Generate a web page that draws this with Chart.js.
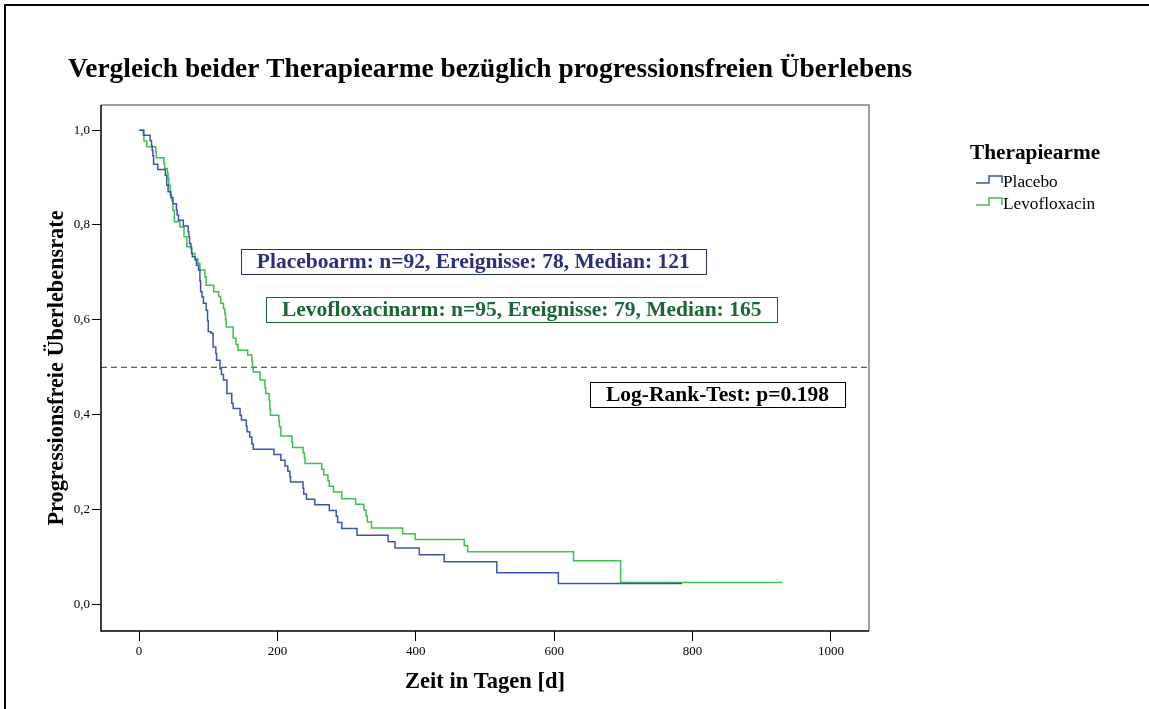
<!DOCTYPE html>
<html>
<head>
<meta charset="utf-8">
<script src="https://cdn.jsdelivr.net/npm/chart.js@4.4.1/dist/chart.umd.min.js"></script>
<style>
html, body { margin: 0; padding: 0; background: #fff; }
#wrap { position: relative; width: 1149px; height: 709px; }
</style>
</head>
<body>
<div id="wrap"><canvas id="km"></canvas></div>
<script>
// Kaplan-Meier Stufen: Zeitpunkt (Tage) und Überlebensrate nach dem Ereignis
const placeboTage = [0, 7, 16, 18, 19, 20, 21, 27, 38, 40, 42, 46, 49, 54, 55, 57, 64, 71, 72, 73, 75, 76, 77, 81, 83, 86, 88, 89, 91, 93, 97, 99, 100, 104, 107, 111, 112, 117, 119, 122, 127, 134, 136, 146, 148, 155, 156, 160, 163, 165, 195, 205, 211, 215, 218, 219, 237, 238, 242, 254, 275, 285, 287, 293, 315, 360, 370, 405, 441, 517, 606, 785];
const placeboRate = [1.0, 0.989, 0.978, 0.967, 0.957, 0.946, 0.928, 0.917, 0.905, 0.884, 0.870, 0.858, 0.845, 0.832, 0.821, 0.810, 0.798, 0.786, 0.775, 0.761, 0.751, 0.740, 0.733, 0.726, 0.715, 0.705, 0.682, 0.659, 0.648, 0.635, 0.620, 0.598, 0.575, 0.572, 0.543, 0.529, 0.515, 0.497, 0.485, 0.473, 0.445, 0.424, 0.413, 0.399, 0.389, 0.376, 0.364, 0.353, 0.339, 0.327, 0.316, 0.304, 0.292, 0.281, 0.269, 0.258, 0.245, 0.233, 0.222, 0.210, 0.198, 0.186, 0.173, 0.160, 0.146, 0.132, 0.119, 0.105, 0.090, 0.067, 0.044, 0.044];

const levoTage = [0, 6, 7, 11, 24, 25, 36, 37, 41, 42, 43, 45, 47, 49, 51, 59, 65, 69, 76, 81, 85, 88, 95, 97, 108, 115, 118, 122, 124, 125, 126, 136, 140, 143, 157, 163, 164, 165, 175, 182, 183, 188, 189, 190, 202, 203, 205, 221, 222, 237, 239, 240, 264, 267, 273, 275, 281, 293, 313, 325, 328, 330, 336, 381, 399, 470, 475, 628, 696, 930];
const levoRate = [1.0, 0.989, 0.977, 0.965, 0.954, 0.942, 0.930, 0.919, 0.909, 0.898, 0.884, 0.863, 0.852, 0.831, 0.807, 0.796, 0.775, 0.754, 0.740, 0.729, 0.719, 0.705, 0.691, 0.673, 0.659, 0.649, 0.635, 0.624, 0.613, 0.600, 0.585, 0.561, 0.548, 0.536, 0.526, 0.513, 0.501, 0.490, 0.473, 0.457, 0.445, 0.430, 0.412, 0.399, 0.387, 0.374, 0.355, 0.342, 0.331, 0.320, 0.308, 0.297, 0.285, 0.273, 0.261, 0.249, 0.237, 0.223, 0.211, 0.199, 0.187, 0.174, 0.161, 0.149, 0.137, 0.124, 0.111, 0.092, 0.046, 0.046];

const serien = ['Placebo', 'Levofloxacin'];
const farben = ['#3d55b2', '#3fbf4f'];
const xTicks = [0, 200, 400, 600, 800, 1000];
const yTicks = [0.0, 0.2, 0.4, 0.6, 0.8, 1.0];
const medianLinie = 0.5;
const xBereich = [-55, 1055];
const yBereich = [-0.056, 1.053];

const titel = 'Vergleich beider Therapiearme bezüglich progressionsfreien Überlebens';
// Textkästen: Text, Farbe, Mittelpunkt in Datenkoordinaten (Tage, Rate)
const kaesten = [
    { text: 'Placeboarm: n=92, Ereignisse: 78, Median: 121', farbe: '#2b2f80', x: 483, y: 0.723 },
    { text: 'Levofloxacinarm: n=95, Ereignisse: 79, Median: 165', farbe: '#1b6636', x: 553, y: 0.622 },
    { text: 'Log-Rank-Test: p=0.198', farbe: '#000000', x: 836, y: 0.442 }
];

const SERIF = '"Liberation Serif", "Times New Roman", serif';

const punkte = (tage, rate) => tage.map((t, i) => ({ x: t, y: rate[i] }));

const rahmenPlugin = {
    id: 'rahmen',
    afterDraw(chart) {
        const ctx = chart.ctx;
        const a = chart.chartArea;
        const sx = chart.scales.x, sy = chart.scales.y;
        ctx.save();

        // äußerer Rahmen
        ctx.strokeStyle = '#000';
        ctx.lineWidth = 2;
        ctx.beginPath();
        ctx.moveTo(1149, 5);
        ctx.lineTo(5, 5);
        ctx.lineTo(5, 709);
        ctx.stroke();

        // Diagrammrahmen
        ctx.lineWidth = 1.5;
        ctx.strokeStyle = '#808080';
        ctx.beginPath();
        ctx.moveTo(a.left, a.top);
        ctx.lineTo(a.right, a.top);
        ctx.lineTo(a.right, a.bottom);
        ctx.stroke();
        ctx.strokeStyle = '#000';
        ctx.beginPath();
        ctx.moveTo(a.left, a.top);
        ctx.lineTo(a.left, a.bottom);
        ctx.lineTo(a.right, a.bottom);
        ctx.stroke();

        // Titel
        ctx.fillStyle = '#000';
        ctx.font = 'bold 27.4px ' + SERIF;
        ctx.textAlign = 'left';
        ctx.textBaseline = 'alphabetic';
        ctx.fillText(titel, 68, 77);

        // Textkästen
        ctx.font = 'bold 21.5px ' + SERIF;
        ctx.textAlign = 'center';
        ctx.textBaseline = 'middle';
        kaesten.forEach(k => {
            const cx = sx.getPixelForValue(k.x);
            const cy = sy.getPixelForValue(k.y);
            const w = ctx.measureText(k.text).width + 32;
            const h = 25;
            ctx.fillStyle = '#fff';
            ctx.fillRect(cx - w / 2, cy - h / 2, w, h);
            ctx.strokeStyle = k.farbe;
            ctx.lineWidth = 1;
            ctx.strokeRect(Math.round(cx - w / 2) + 0.5, Math.round(cy - h / 2) + 0.5, Math.round(w), h);
            ctx.fillStyle = k.farbe;
            ctx.fillText(k.text, cx, cy + 1);
        });

        // Legende
        ctx.fillStyle = '#000';
        ctx.textAlign = 'left';
        ctx.textBaseline = 'alphabetic';
        ctx.font = 'bold 21.3px ' + SERIF;
        ctx.fillText('Therapiearme', 970, 159);
        ctx.font = '17.3px ' + SERIF;
        serien.forEach((name, i) => {
            const yb = 183 + i * 22;
            ctx.strokeStyle = farben[i];
            ctx.lineWidth = 1.5;
            ctx.beginPath();
            ctx.moveTo(976, yb);
            ctx.lineTo(989, yb);
            ctx.lineTo(989, yb - 7);
            ctx.lineTo(1002, yb - 7);
            ctx.lineTo(1002, yb);
            ctx.stroke();
            ctx.fillStyle = '#000';
            ctx.fillText(name, 1003, yb + 4);
        });
        ctx.restore();
    }
};

new Chart(document.getElementById('km'), {
    type: 'line',
    data: {
        datasets: [
            {
                label: serien[0],
                data: punkte(placeboTage, placeboRate),
                borderColor: farben[0],
                borderWidth: 1.5,
                stepped: 'before',
                pointRadius: 0,
                fill: false
            },
            {
                label: serien[1],
                data: punkte(levoTage, levoRate),
                borderColor: farben[1],
                borderWidth: 1.5,
                stepped: 'before',
                pointRadius: 0,
                fill: false
            },
            {
                label: 'Median',
                data: [{ x: xBereich[0], y: medianLinie }, { x: xBereich[1], y: medianLinie }],
                borderColor: '#333',
                borderWidth: 1,
                borderDash: [6, 4],
                pointRadius: 0,
                fill: false
            }
        ]
    },
    options: {
        responsive: true,
        maintainAspectRatio: false,
        animation: false,
        layout: { padding: { left: 41, top: 105, right: 280, bottom: 0 } },
        plugins: {
            legend: { display: false },
            tooltip: { enabled: false }
        },
        scales: {
            x: {
                type: 'linear',
                min: xBereich[0],
                max: xBereich[1],
                afterBuildTicks: s => { s.ticks = xTicks.map(v => ({ value: v })); },
                afterFit: s => { s.height = 78; },
                grid: { drawOnChartArea: false, drawTicks: true, tickLength: 10, color: '#000' },
                border: { display: false },
                ticks: {
                    padding: 3,
                    color: '#000',
                    font: { family: SERIF, size: 13 },
                    callback: v => String(v)
                },
                title: {
                    display: true,
                    text: 'Zeit in Tagen [d]',
                    color: '#000',
                    font: { family: SERIF, size: 22.5, weight: 'bold' },
                    padding: { top: 0, bottom: 13 }
                }
            },
            y: {
                type: 'linear',
                min: yBereich[0],
                max: yBereich[1],
                afterBuildTicks: s => { s.ticks = yTicks.map(v => ({ value: v })); },
                afterFit: s => { s.width = 60; },
                grid: { drawOnChartArea: false, drawTicks: true, tickLength: 9, color: '#000' },
                border: { display: false },
                ticks: {
                    padding: 2,
                    color: '#000',
                    font: { family: SERIF, size: 13 },
                    callback: v => v.toFixed(1).replace('.', ',')
                },
                title: {
                    display: true,
                    text: 'Progressionsfreie Überlebensrate',
                    color: '#000',
                    font: { family: SERIF, size: 22.3, weight: 'bold' },
                    padding: { top: 3, bottom: 0 }
                }
            }
        }
    },
    plugins: [rahmenPlugin]
});
</script>
</body>
</html>
